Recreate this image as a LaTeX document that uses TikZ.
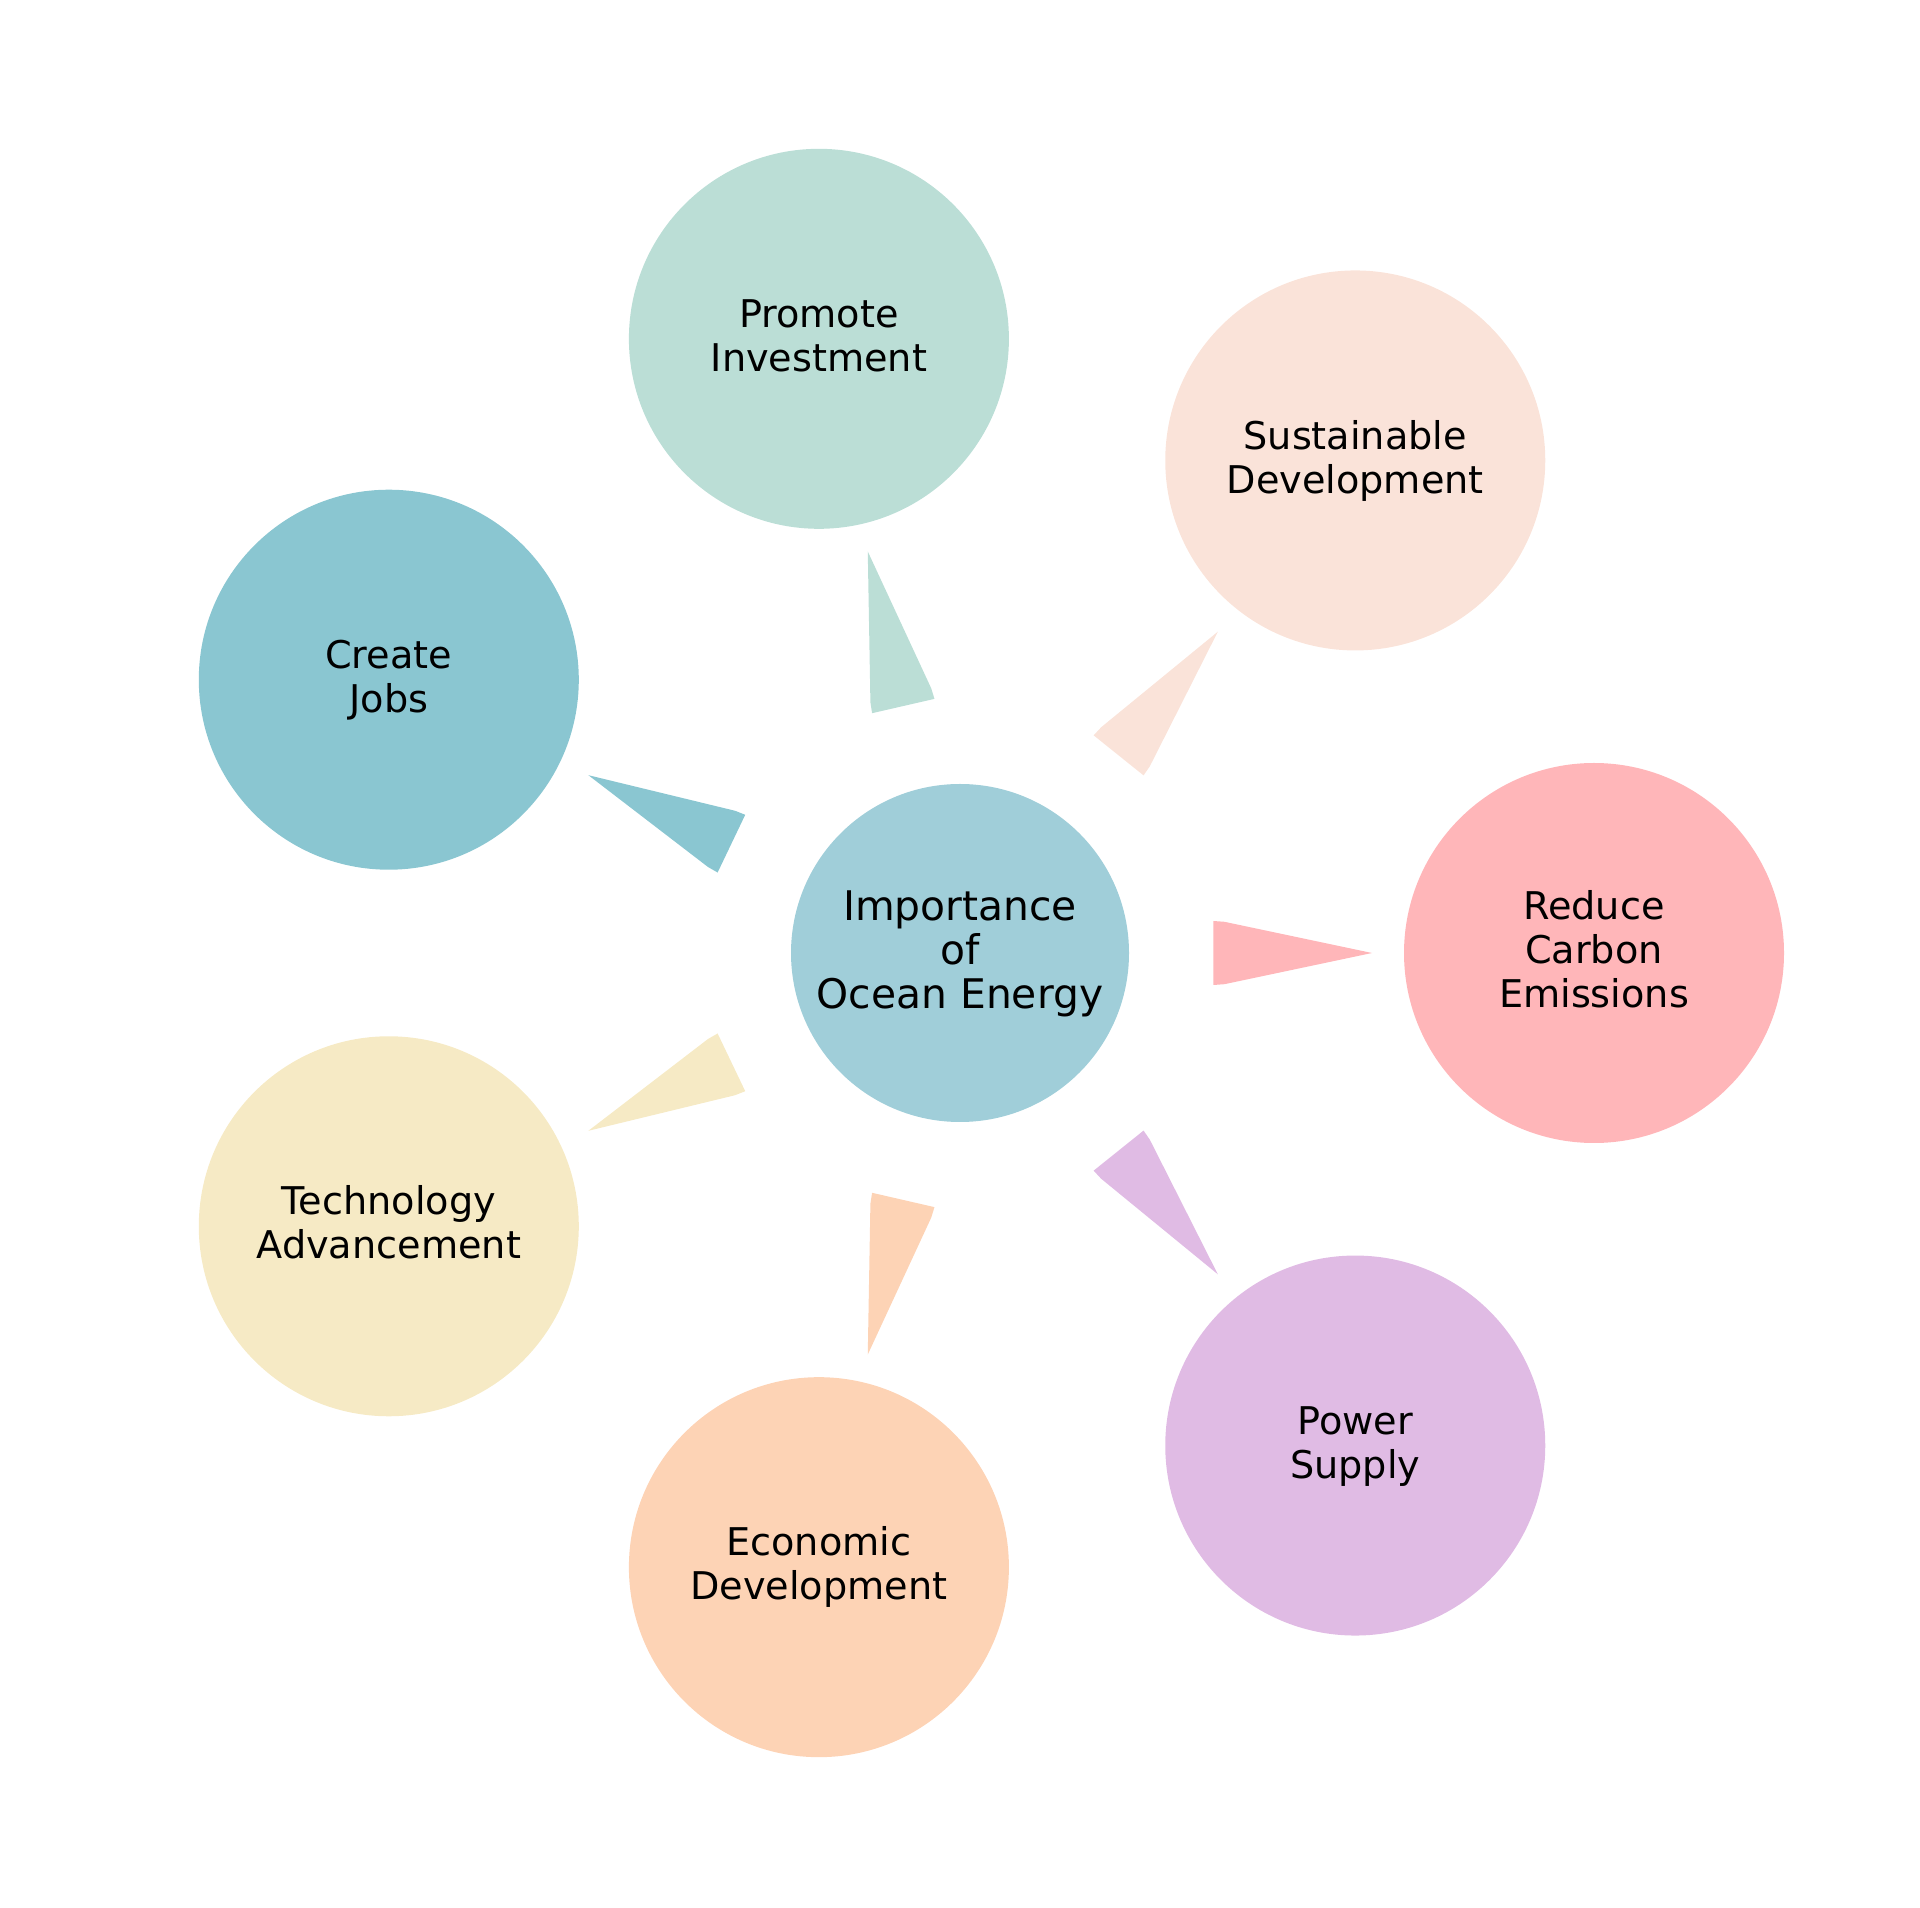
\documentclass[tikz,border=0pt]{standalone}
\usepackage{fontspec}
\setmainfont{DejaVu Sans}
\usetikzlibrary{calc}
\definecolor{cCenter}{HTML}{A0CED9}
\definecolor{cReduce}{HTML}{FFB6B9}
\definecolor{cSust}{HTML}{FAE3D9}
\definecolor{cProm}{HTML}{BBDED6}
\definecolor{cJobs}{HTML}{8AC6D1}
\definecolor{cTech}{HTML}{F6EAC5}
\definecolor{cEcon}{HTML}{FDD3B5}
\definecolor{cPower}{HTML}{E0BBE4}
\newcommand\lnstrut{\rule[-0.22em]{0pt}{1em}}
\begin{document}
\begin{tikzpicture}[x=0.5pt,y=0.5pt,
  hub/.style={circle,fill=cCenter,minimum size=169pt,inner sep=0pt,align=center,font=\fontsize{20.4}{22}\selectfont},
  leaf/.style={circle,minimum size=190pt,inner sep=0pt,align=center,font=\fontsize{19.1}{22}\selectfont}]
\useasboundingbox (0,0) rectangle (1920,1907);
\node[hub] (ctr) at (960,954) {\lnstrut Importance\\\lnstrut of\\\lnstrut Ocean Energy};
\path (ctr.center) ++({634*cos(0)},{630*sin(0)}) node[leaf,fill=cReduce] (red) {\lnstrut Reduce\\\lnstrut Carbon\\\lnstrut Emissions};
\path (ctr.center) ++({634*cos(51.43)},{630*sin(51.43)}) node[leaf,fill=cSust] (sus) {\lnstrut Sustainable\\\lnstrut Development};
\path (ctr.center) ++({634*cos(102.86)},{630*sin(102.86)}) node[leaf,fill=cProm] (pro) {\lnstrut Promote\\\lnstrut Investment};
\path (ctr.center) ++({634*cos(154.29)},{630*sin(154.29)}) node[leaf,fill=cJobs] (job) {\lnstrut Create\\\lnstrut Jobs};
\path (ctr.center) ++({634*cos(205.71)},{630*sin(205.71)}) node[leaf,fill=cTech] (tec) {\lnstrut Technology\\\lnstrut Advancement};
\path (ctr.center) ++({634*cos(257.14)},{630*sin(257.14)}) node[leaf,fill=cEcon] (eco) {\lnstrut Economic\\\lnstrut Development};
\path (ctr.center) ++({634*cos(308.57)},{630*sin(308.57)}) node[leaf,fill=cPower] (pow) {\lnstrut Power\\\lnstrut Supply};
\foreach \n/\col in {red/cReduce,sus/cSust,pro/cProm,job/cJobs,tec/cTech,eco/cEcon,pow/cPower}{
  \coordinate (m) at ($(ctr.center)!126.7pt!(\n.center)$);
  \coordinate (q) at ($(ctr.center)!132.2pt!(\n.center)$);
  \coordinate (t) at ($(ctr.center)!206pt!(\n.center)$);
  \fill[\col] ($(m)!16pt!90:(t)$) -- ($(q)!15.6pt!90:(t)$) -- (t) -- ($(q)!15.6pt!-90:(t)$) -- ($(m)!16pt!-90:(t)$) -- cycle;
}
\end{tikzpicture}
\end{document}
